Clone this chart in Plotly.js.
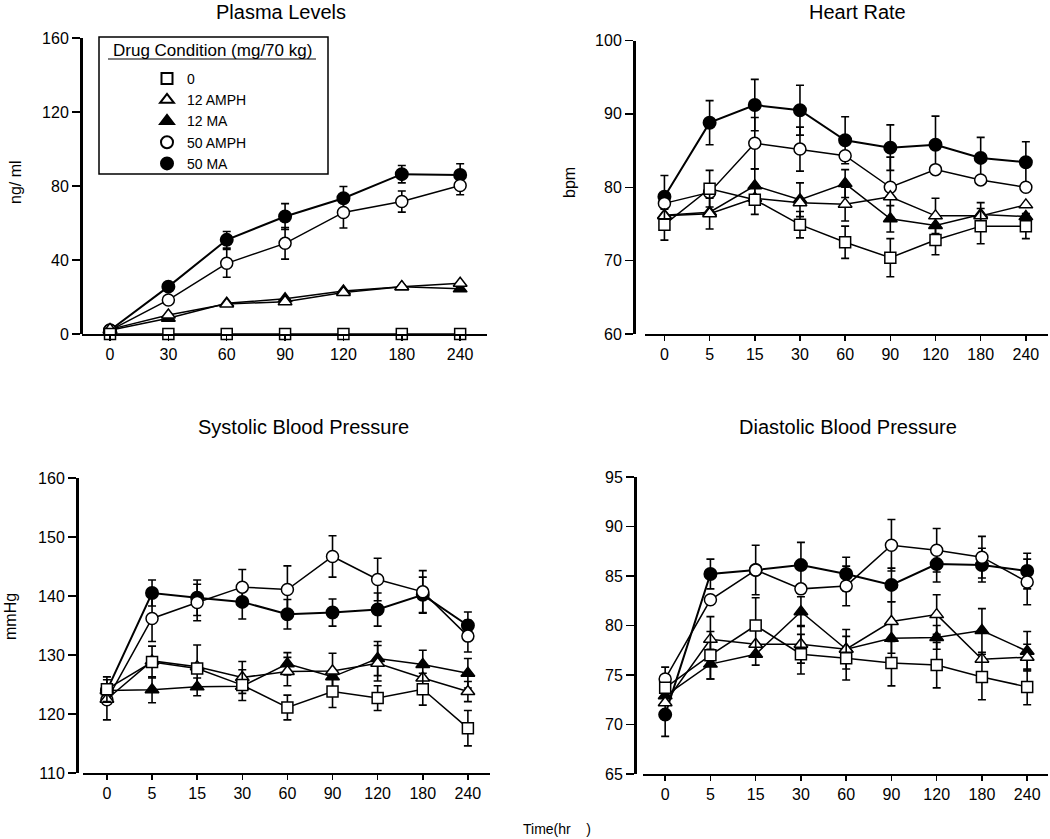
<!DOCTYPE html>
<html>
<head>
<meta charset="utf-8">
<script src="https://cdn.plot.ly/plotly-3.0.1.min.js"></script>
<style>html,body{margin:0;padding:0;background:#fff;}#chart{width:1050px;height:839px;}</style>
</head>
<body>
<div id="chart"></div>
<script>
// ---------- DATA ----------
const seriesNames = ['0', '12 AMPH', '12 MA', '50 AMPH', '50 MA'];
const legendTitle = 'Drug Condition (mg/70 kg)';
const timesPlasma = ['0', '30', '60', '90', '120', '180', '240'];
const timesVital = ['0', '5', '15', '30', '60', '90', '120', '180', '240'];
const panelTitles = ['Plasma Levels', 'Heart Rate', 'Systolic Blood Pressure', 'Diastolic Blood Pressure'];
const yTitles = ['ng/ ml', 'bpm', 'mmHg', ''];
const xLabel = 'Time(hr\u00a0\u00a0\u00a0\u00a0)';

const yTicks = [
  [0, 40, 80, 120, 160],
  [60, 70, 80, 90, 100],
  [110, 120, 130, 140, 150, 160],
  [65, 70, 75, 80, 85, 90, 95]
];

// Plasma levels (ng/ml)
const plasma0      = [0, 0, 0, 0, 0, 0, 0];
const plasma0Err   = [0, 0, 0, 0, 0, 0, 0];
const plasmaA12    = [2.5, 10.3, 16.2, 17.5, 22.4, 25.6, 27.4];
const plasmaA12Err = [0, 0, 0, 0, 0, 0, 0];
const plasmaM12    = [2, 8.5, 16.6, 19.0, 23.3, 25.6, 24.4];
const plasmaM12Err = [0, 0, 0, 0, 0, 0, 0];
const plasmaA50    = [2, 18.4, 38.2, 49.0, 65.7, 71.6, 80.3];
const plasmaA50Err = [0, 0, 7.5, 8.5, 8.4, 5.7, 5.0];
const plasmaM50    = [2, 25.6, 50.9, 63.5, 73.4, 86.4, 86.0];
const plasmaM50Err = [0, 0, 4.5, 7.0, 6.3, 4.7, 6.0];

// Heart rate (bpm)
const hr0      = [74.9, 79.8, 78.3, 74.9, 72.5, 70.4, 72.8, 74.7, 74.7];
const hr0Err   = [2.1, 2.5, 2.0, 1.8, 2.2, 2.6, 2.0, 2.4, 1.7];
const hrA12    = [76.1, 76.4, 78.5, 77.9, 77.7, 78.7, 76.1, 76.1, 77.6];
const hrA12Err = [0, 2.1, 0, 0, 2.3, 0, 2.4, 1.8, 0];
const hrM12    = [76.2, 76.6, 80.2, 78.3, 80.5, 75.7, 74.8, 76.3, 76.0];
const hrM12Err = [0, 0, 2.3, 2.3, 1.9, 1.8, 0, 0, 0];
const hrA50    = [77.8, 79.3, 86.0, 85.2, 84.3, 80.0, 82.4, 81.0, 80.0];
const hrA50Err = [0, 0, 3.5, 3.0, 0, 4.1, 0, 0, 0];
const hrM50    = [78.7, 88.8, 91.2, 90.5, 86.4, 85.4, 85.8, 84.0, 83.4];
const hrM50Err = [2.9, 3.0, 3.5, 3.4, 3.2, 3.1, 3.9, 2.8, 2.8];

// Systolic blood pressure (mmHg)
const sbp0      = [124.2, 128.8, 127.7, 124.9, 121.1, 123.8, 122.7, 124.2, 117.6];
const sbp0Err   = [2.1, 2.7, 0, 2.6, 2.1, 2.7, 2.1, 2.7, 3.0];
const sbpA12    = [122.5, 129.0, 128.0, 126.2, 127.2, 127.3, 128.6, 126.1, 123.8];
const sbpA12Err = [0, 0, 3.7, 2.7, 2.4, 3.0, 3.0, 0, 1.7];
const sbpM12    = [124.0, 124.1, 124.6, 124.7, 128.5, 126.3, 129.4, 128.4, 126.9];
const sbpM12Err = [0, 2.2, 1.5, 0, 1.9, 0, 2.9, 2.4, 2.5];
const sbpA50    = [122.4, 136.2, 138.9, 141.5, 141.1, 146.7, 142.8, 140.7, 133.2];
const sbpA50Err = [3.4, 3.9, 3.1, 3.0, 4.0, 3.5, 3.6, 3.6, 2.7];
const sbpM50    = [124.0, 140.5, 139.7, 139.0, 136.9, 137.2, 137.7, 140.2, 135.0];
const sbpM50Err = [0, 2.2, 3.0, 2.9, 2.5, 2.3, 2.8, 3.0, 2.3];

// Diastolic blood pressure (mmHg)
const dbp0      = [73.7, 77.0, 80.0, 77.1, 76.7, 76.2, 76.0, 74.8, 73.8];
const dbp0Err   = [0, 2.4, 2.8, 2.0, 2.2, 2.3, 2.3, 2.3, 1.8];
const dbpA12    = [72.2, 78.6, 78.1, 78.1, 77.6, 80.4, 81.1, 76.6, 76.8];
const dbpA12Err = [0, 2.3, 0, 1.9, 2.0, 2.0, 2.0, 0, 1.3];
const dbpM12    = [72.9, 76.1, 77.1, 81.4, 77.6, 78.7, 78.8, 79.5, 77.4];
const dbpM12Err = [0, 1.5, 1.1, 1.5, 0, 1.5, 1.2, 2.2, 2.0];
const dbpA50    = [74.6, 82.6, 85.6, 83.7, 84.0, 88.1, 87.6, 86.9, 84.4];
const dbpA50Err = [1.2, 0, 2.5, 0, 2.0, 2.6, 2.2, 2.1, 2.3];
const dbpM50    = [71.0, 85.2, 85.6, 86.1, 85.2, 84.1, 86.2, 86.1, 85.5];
const dbpM50Err = [2.2, 1.5, 0, 2.3, 1.7, 1.7, 1.8, 1.7, 1.8];

// ---------- STYLE ----------
const W = 1050, H = 839;
const FONT = 'Liberation Sans, Arial, Helvetica, sans-serif';
const X = px => px / W;
const Y = py => 1 - py / H;

const styles = [
  {symbol: 'square',      color: '#ffffff', size: 11, lw: 1.5},
  {symbol: 'triangle-up', color: '#ffffff', size: 12, lw: 1.5},
  {symbol: 'triangle-up', color: '#000000', size: 12, lw: 1.5},
  {symbol: 'circle',      color: '#ffffff', size: 12, lw: 1.5},
  {symbol: 'circle',      color: '#000000', size: 12, lw: 2}
];

const panels = [
  {x: timesPlasma, vals: [plasma0, plasmaA12, plasmaM12, plasmaA50, plasmaM50],
   errs: [plasma0Err, plasmaA12Err, plasmaM12Err, plasmaA50Err, plasmaM50Err]},
  {x: timesVital, vals: [hr0, hrA12, hrM12, hrA50, hrM50],
   errs: [hr0Err, hrA12Err, hrM12Err, hrA50Err, hrM50Err]},
  {x: timesVital, vals: [sbp0, sbpA12, sbpM12, sbpA50, sbpM50],
   errs: [sbp0Err, sbpA12Err, sbpM12Err, sbpA50Err, sbpM50Err]},
  {x: timesVital, vals: [dbp0, dbpA12, dbpM12, dbpA50, dbpM50],
   errs: [dbp0Err, dbpA12Err, dbpM12Err, dbpA50Err, dbpM50Err]}
];

const traces = [];
const drawOrder = [4, 3, 2, 1, 0];
panels.forEach((p, pi) => {
  const sfx = pi === 0 ? '' : String(pi + 1);
  drawOrder.forEach(si => {
    const st = styles[si];
    traces.push({
      type: 'scatter', mode: 'lines+markers',
      x: p.x, y: p.vals[si],
      xaxis: 'x' + sfx, yaxis: 'y' + sfx,
      name: seriesNames[si], showlegend: false,
      line: {color: '#000', width: si === 4 ? 2 : 1.5},
      marker: {symbol: st.symbol, size: st.size, color: st.color, line: {color: '#000', width: st.lw}},
      error_y: {type: 'data', array: p.errs[si], visible: true, color: '#000', thickness: 1.6, width: 4},
      cliponaxis: false, hoverinfo: 'skip'
    });
  });
});
// legend entries (marker only)
seriesNames.forEach((n, si) => {
  const st = styles[si];
  traces.push({
    type: 'scatter', mode: 'markers', x: [null], y: [null], xaxis: 'x', yaxis: 'y',
    name: n, showlegend: true,
    marker: {symbol: st.symbol, size: st.size, color: st.color, line: {color: '#000', width: 2}}
  });
});

function xax(domain, range, cats) {
  return {type: 'category', categoryorder: 'array', categoryarray: cats,
    domain: domain, range: range, showline: true, linecolor: '#000', linewidth: 1.5,
    ticks: 'outside', ticklen: 5, tickwidth: 1.5, tickcolor: '#000',
    tickfont: {family: FONT, size: 16, color: '#000'},
    showgrid: false, zeroline: false, fixedrange: true};
}
function yax(domain, range, pos, tv) {
  return {domain: domain, range: range, anchor: 'free', position: pos,
    tickvals: tv, ticktext: tv.map(String),
    showline: true, linecolor: '#000', linewidth: 2.5,
    ticks: 'outside', ticklen: 8, tickwidth: 1.5, tickcolor: '#000',
    tickfont: {family: FONT, size: 16, color: '#000'},
    showgrid: false, zeroline: false, fixedrange: true};
}

const ann = [];
const titlePos = [[281, 12], [857, 12], [303, 427], [848, 427]];
panelTitles.forEach((t, i) => ann.push({text: t, x: X(titlePos[i][0]), y: Y(titlePos[i][1]),
  xref: 'paper', yref: 'paper', showarrow: false, xanchor: 'center', yanchor: 'middle',
  font: {family: FONT, size: 20, color: '#000'}}));
const yTitlePos = [[15, 182], [570, 183], [10, 617]];
yTitlePos.forEach((p, i) => ann.push({text: yTitles[i], x: X(p[0]), y: Y(p[1]),
  xref: 'paper', yref: 'paper', showarrow: false, textangle: -90, xanchor: 'center', yanchor: 'middle',
  font: {family: FONT, size: 16, color: '#000'}}));
ann.push({text: xLabel, x: X(521), y: Y(829), xref: 'paper', yref: 'paper', showarrow: false,
  xanchor: 'left', yanchor: 'middle',
  font: {family: 'Liberation Sans Narrow, Arial Narrow, ' + FONT, size: 14, color: '#000'}});
ann.push({text: legendTitle, x: X(212), y: Y(51), xref: 'paper', yref: 'paper', showarrow: false,
  xanchor: 'center', yanchor: 'middle', font: {family: FONT, size: 17, color: '#000'}});

const shapes = [
  {type: 'rect', xref: 'paper', yref: 'paper', x0: X(99), x1: X(328), y0: Y(37), y1: Y(174),
   line: {color: '#000', width: 1.5}, fillcolor: 'rgba(0,0,0,0)'},
  {type: 'line', xref: 'paper', yref: 'paper', x0: X(108), x1: X(316), y0: Y(59), y1: Y(59),
   line: {color: '#000', width: 1.2}}
];

const layout = {
  width: W, height: H, margin: {l: 0, r: 0, t: 0, b: 0},
  paper_bgcolor: '#fff', plot_bgcolor: 'rgba(0,0,0,0)',
  font: {family: FONT, color: '#000'},
  showlegend: true,
  legend: {x: X(147), y: Y(63), xanchor: 'left', yanchor: 'top', bgcolor: 'rgba(0,0,0,0)',
    borderwidth: 0, font: {family: FONT, size: 14, color: '#000'}, traceorder: 'normal', itemclick: false},
  xaxis: xax([X(82), X(487)], [-0.48, 6.46], timesPlasma),
  yaxis: yax([Y(334), Y(38)], [0, 160], X(81), yTicks[0]),
  xaxis2: xax([X(645), X(1048)], [-0.43, 8.49], timesVital),
  yaxis2: yax([Y(334), Y(40.5)], [60, 100], X(634), yTicks[1]),
  xaxis3: xax([X(83), X(490)], [-0.53, 8.49], timesVital),
  yaxis3: yax([Y(773), Y(478)], [110, 160], X(77), yTicks[2]),
  xaxis4: xax([X(643), X(1048)], [-0.49, 8.46], timesVital),
  yaxis4: yax([Y(774), Y(477)], [65, 95], X(635), yTicks[3]),
  annotations: ann, shapes: shapes
};
layout.xaxis.anchor = 'y'; layout.xaxis2.anchor = 'y2'; layout.xaxis3.anchor = 'y3'; layout.xaxis4.anchor = 'y4';

Plotly.newPlot('chart', traces, layout, {displayModeBar: false, staticPlot: true});
</script>
</body>
</html>
